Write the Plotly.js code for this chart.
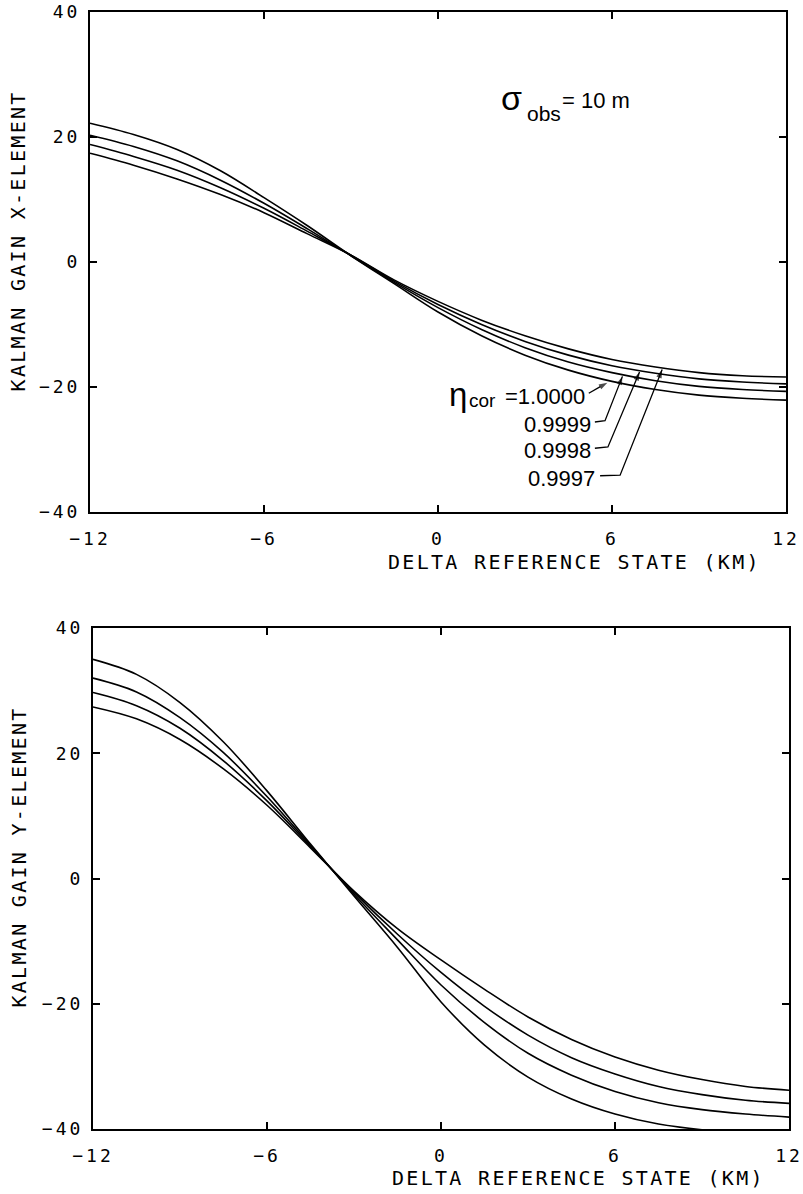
<!DOCTYPE html>
<html>
<head>
<meta charset="utf-8">
<script src="https://cdn.plot.ly/plotly-3.0.1.min.js"></script>
<style>
  html, body { margin: 0; padding: 0; background: #fff; }
  #chart { width: 803px; height: 1194px; }
  text[style*="font-size: 18px"] { letter-spacing: 3px; }
  text[style*="font-size: 20px"] { letter-spacing: 2.3px; }
</style>
</head>
<body>
<div id="chart"></div>
<script>
// ---- data ----
const deltaKm = [-12, -10.5, -9, -7.5, -6, -4.5, -3, -1.5, 0, 1.5, 3, 4.5, 6, 7.5, 9, 10.5, 12];
const etaLabels = ['1.0000', '0.9999', '0.9998', '0.9997'];

// Kalman gain X-element (top panel)
const gainX_10000 = [22.2, 20.4, 18.0, 14.6, 10.3, 5.8, 1.0, -3.5, -8.0, -11.8, -14.9, -17.3, -19.1, -20.4, -21.3, -21.8, -22.1];
const gainX_09999 = [20.3, 18.5, 16.2, 13.1, 9.4, 5.3, 1.0, -3.3, -7.3, -10.8, -13.7, -16.0, -17.7, -19.0, -19.9, -20.4, -20.7];
const gainX_09998 = [18.8, 16.9, 14.7, 11.9, 8.6, 4.9, 1.1, -3.1, -6.8, -10.0, -12.7, -14.9, -16.6, -17.8, -18.7, -19.2, -19.5];
const gainX_09997 = [17.4, 15.5, 13.3, 10.8, 7.9, 4.5, 1.1, -2.9, -6.3, -9.3, -11.8, -13.9, -15.6, -16.8, -17.7, -18.2, -18.4];

// Kalman gain Y-element (bottom panel)
const gainY_10000 = [35.0, 32.6, 28.1, 21.8, 14.0, 5.5, -2.8, -11.0, -19.7, -26.6, -31.7, -35.2, -37.6, -39.2, -40.1, -40.6, -40.9];
const gainY_09999 = [32.0, 29.8, 25.7, 20.1, 13.1, 5.3, -2.5, -9.8, -17.0, -23.0, -27.9, -31.4, -34.0, -35.8, -36.9, -37.6, -38.1];
const gainY_09998 = [29.7, 27.6, 24.0, 18.8, 12.4, 5.1, -2.2, -8.9, -15.0, -20.4, -25.0, -28.6, -31.2, -33.2, -34.5, -35.4, -35.9];
const gainY_09997 = [27.4, 25.5, 22.2, 17.5, 11.7, 4.9, -2.0, -8.0, -13.0, -17.7, -22.1, -25.7, -28.5, -30.6, -32.1, -33.2, -33.8];

const xTicks = [-12, -6, 0, 6, 12];
const yTicks = [-40, -20, 0, 20, 40];

// eta value labels: right end / vertical middle, top-panel data units
const etaLabelX = [5.14, 5.34, 5.34, 5.48];
const etaLabelY = [-21.6, -26.0, -30.1, -34.7];
// leader lines: tail -> corner -> arrow tip on the curve
const leaderX = [[5.20, 5.84], [5.41, 5.76, 6.36], [5.41, 5.86, 6.95], [5.59, 6.28, 7.73]];
const leaderY = [[-21.0, -19.3], [-25.6, -25.4, -18.3], [-29.8, -29.6, -17.6], [-34.2, -34.1, -17.2]];

// ---- chart ----
const ink = '#000';
const lineStyle = {color: ink, width: 1.6, shape: 'spline', smoothing: 1};

const topSeries = [gainX_10000, gainX_09999, gainX_09998, gainX_09997];
const botSeries = [gainY_10000, gainY_09999, gainY_09998, gainY_09997];

const traces = [];
topSeries.forEach((ys, i) => traces.push({
  x: deltaKm, y: ys, xaxis: 'x', yaxis: 'y', mode: 'lines', name: etaLabels[i],
  line: lineStyle, showlegend: false, hoverinfo: 'skip'
}));
botSeries.forEach((ys, i) => traces.push({
  x: deltaKm, y: ys, xaxis: 'x2', yaxis: 'y2', mode: 'lines', name: etaLabels[i],
  line: lineStyle, showlegend: false, hoverinfo: 'skip'
}));
leaderX.forEach((lx, i) => {
  const n = lx.length;
  traces.push({
    x: lx, y: leaderY[i], xaxis: 'x', yaxis: 'y', mode: 'lines+markers',
    line: {color: ink, width: 1.3},
    marker: {symbol: 'arrow', angleref: 'previous', color: ink,
             size: lx.map((_, k) => (k === n - 1 ? 9 : 0)), line: {width: 0}},
    showlegend: false, hoverinfo: 'skip', cliponaxis: false
  });
});

const tickFont = {family: 'DejaVu Sans Mono', size: 18, color: ink};
const titleFont = {family: 'DejaVu Sans Mono', size: 20, color: ink};
const fmt = v => String(v).replace('-', '\u2212');

function xAxis(domain, anchor) {
  return {
    domain: domain, anchor: anchor, range: [-12, 12], autorange: false,
    tickmode: 'array', tickvals: xTicks, ticktext: xTicks.map(fmt),
    ticks: 'inside', ticklen: 7, tickwidth: 2, tickcolor: ink,
    showline: true, linewidth: 2, linecolor: ink, mirror: 'ticks',
    showgrid: false, zeroline: false, tickfont: tickFont,
    ticklabelstandoff: 9, automargin: false, fixedrange: true
  };
}
function yAxis(domain, anchor) {
  return {
    domain: domain, anchor: anchor, range: [-40, 40], autorange: false,
    tickmode: 'array', tickvals: yTicks, ticktext: yTicks.map(fmt),
    ticks: 'inside', ticklen: 7, tickwidth: 2, tickcolor: ink,
    showline: true, linewidth: 2, linecolor: ink, mirror: 'ticks',
    showgrid: false, zeroline: false, tickfont: tickFont,
    ticklabelstandoff: 4, automargin: false, fixedrange: true
  };
}

const sans = 'Liberation Sans';
function note(x, y, text, size, xanchor) {
  return {xref: 'x', yref: 'y', x: x, y: y, text: text, showarrow: false,
          font: {family: sans, size: size, color: ink}, xanchor: xanchor, yanchor: 'middle'};
}

const annotations = [
  {xref: 'paper', yref: 'paper', x: 0.716, y: 0.5293, text: 'DELTA REFERENCE STATE (KM)',
   showarrow: false, font: titleFont, xanchor: 'center', yanchor: 'middle'},
  {xref: 'paper', yref: 'paper', x: 0.720, y: 0.0134, text: 'DELTA REFERENCE STATE (KM)',
   showarrow: false, font: titleFont, xanchor: 'center', yanchor: 'middle'},
  {xref: 'paper', yref: 'paper', x: 0.0218, y: 0.7982, text: 'KALMAN GAIN X-ELEMENT',
   showarrow: false, font: titleFont, textangle: -90, xanchor: 'center', yanchor: 'middle'},
  {xref: 'paper', yref: 'paper', x: 0.0243, y: 0.2822, text: 'KALMAN GAIN Y-ELEMENT',
   showarrow: false, font: titleFont, textangle: -90, xanchor: 'center', yanchor: 'middle'},
  // sigma_obs = 10 m
  note(2.55, 26.2, 'σ', 34, 'center'),
  note(3.0, 23.8, 'obs', 21, 'left'),
  note(4.21, 25.9, '= 10 m', 22, 'left'),
  // eta_cor =
  note(0.68, -21.2, 'η', 33, 'center'),
  note(1.0, -22.2, 'cor', 19, 'left')
];

etaLabels.forEach((lab, i) => {
  annotations.push(note(etaLabelX[i], etaLabelY[i], i === 0 ? '=' + lab : lab, 22, 'right'));
});

const layout = {
  width: 803, height: 1194,
  margin: {l: 0, r: 0, t: 0, b: 0},
  paper_bgcolor: '#fff', plot_bgcolor: '#fff',
  showlegend: false,
  xaxis: xAxis([0.1121, 0.9788], 'y'),
  yaxis: yAxis([0.5712, 0.9899], 'x'),
  xaxis2: xAxis([0.1158, 0.9826], 'y2'),
  yaxis2: yAxis([0.0544, 0.4740], 'x2'),
  annotations: annotations
};

Plotly.newPlot('chart', traces, layout, {displayModeBar: false, staticPlot: true});
</script>
</body>
</html>
